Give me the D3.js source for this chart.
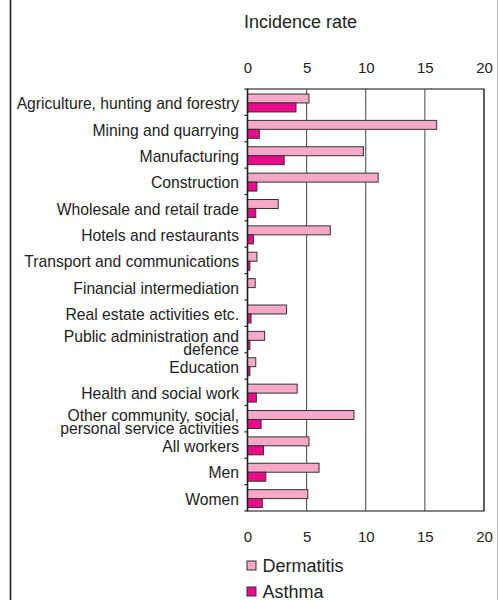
<!DOCTYPE html>
<html><head><meta charset="utf-8">
<script src="https://cdn.jsdelivr.net/npm/d3@7"></script>
<style>body{margin:0;background:#fff}svg{display:block;font-family:"Liberation Sans",Arial,sans-serif}</style>
</head><body><svg id="c" width="498" height="600"></svg>
<script>
const categories = [
  ["Agriculture, hunting and forestry"],
  ["Mining and quarrying"],
  ["Manufacturing"],
  ["Construction"],
  ["Wholesale and retail trade"],
  ["Hotels and restaurants"],
  ["Transport and communications"],
  ["Financial intermediation"],
  ["Real estate activities etc."],
  ["Public administration and", "defence"],
  ["Education"],
  ["Health and social work"],
  ["Other community, social,", "personal service activities"],
  ["All workers"],
  ["Men"],
  ["Women"]
];
const dermatitis = [5.2, 16.0, 9.8, 11.05, 2.6, 7.0, 0.8, 0.65, 3.3, 1.45, 0.7, 4.2, 9.0, 5.2, 6.05, 5.1];
const asthma = [4.1, 1.0, 3.1, 0.8, 0.7, 0.5, 0.2, 0.0, 0.3, 0.2, 0.2, 0.75, 1.15, 1.35, 1.55, 1.25];
const seriesNames = ["Dermatitis", "Asthma"];
const tickValues = [0, 5, 10, 15, 20];
const tickLabels = ["0", "5", "10", "15", "20"];
const axisTitle = "Incidence rate";

const colors = {Dermatitis: "#F5A8C8", Asthma: "#EC0a8a"};
const stroke = "#333";
const svg = d3.select("#c");

// outer frame lines
svg.append("line").attr("x1",10.5).attr("x2",10.5).attr("y1",0).attr("y2",600).attr("stroke","#222").attr("stroke-width",1.6);
svg.append("line").attr("x1",497.5).attr("x2",497.5).attr("y1",0).attr("y2",600).attr("stroke","#bbb").attr("stroke-width",1);

const x = d3.scaleLinear().domain([0,20]).range([247.5, 484]);
const keys = categories.map((c,i)=>i);
const y = d3.scaleBand().domain(keys).range([89, 511]);
const bw = y.bandwidth();
const yi = d3.scaleBand().domain(seriesNames).range([bw*0.19, bw*0.87]);

// title
svg.append("text").attr("x",244).attr("y",28).attr("font-size",18).attr("fill","#222").text(axisTitle);

// gridlines
const g = svg.append("g");
g.selectAll("line.grid").data(tickValues.slice(1)).join("line")
  .attr("x1",d=>x(d)).attr("x2",d=>x(d)).attr("y1",89).attr("y2",511)
  .attr("stroke","#444").attr("stroke-width",1);
// frame
g.append("rect").attr("x",x(0)).attr("y",89).attr("width",x(20)-x(0)).attr("height",511-89)
  .attr("fill","none").attr("stroke","#333").attr("stroke-width",1.2);

// top and bottom tick labels via axes
const axTop = d3.axisTop(x).tickValues(tickValues).tickFormat((d,i)=>tickLabels[i]).tickSize(0).tickPadding(0);
const gt = svg.append("g").attr("transform","translate(0,73)").call(axTop);
const axBot = d3.axisBottom(x).tickValues(tickValues).tickFormat((d,i)=>tickLabels[i]).tickSize(0).tickPadding(0);
const gb = svg.append("g").attr("transform","translate(0,531)").call(axBot);
[gt,gb].forEach(a=>{a.select(".domain").remove();a.selectAll("text").attr("font-size",15).attr("fill","#222").attr("font-family","Liberation Sans, Arial, sans-serif");});

// bars
const rows = keys.map(i=>({i, vals:[{s:"Dermatitis",v:dermatitis[i]},{s:"Asthma",v:asthma[i]}]}));
const rg = svg.append("g").selectAll("g").data(rows).join("g").attr("transform",d=>`translate(0,${y(d.i)})`);
rg.selectAll("rect").data(d=>d.vals.filter(v=>v.v>0)).join("rect")
  .attr("x",x(0)).attr("y",d=>yi(d.s)).attr("width",d=>x(d.v)-x(0)).attr("height",yi.bandwidth())
  .attr("fill",d=>colors[d.s]).attr("stroke",stroke).attr("stroke-width",1);

// y axis line and ticks
svg.append("line").attr("x1",x(0)).attr("x2",x(0)).attr("y1",89).attr("y2",511).attr("stroke","#222").attr("stroke-width",1.5);
svg.append("g").selectAll("line").data(d3.range(categories.length+1)).join("line")
  .attr("x1",x(0)-3).attr("x2",x(0)).attr("y1",d=>89+d*bw).attr("y2",d=>89+d*bw).attr("stroke","#222").attr("stroke-width",1.2);

// category labels
const lab = svg.append("g").selectAll("text").data(keys).join("text")
  .attr("text-anchor","end").attr("font-size",15.7).attr("fill","#222")
  .attr("x",239);
lab.each(function(i){
  const lines = categories[i];
  const t = d3.select(this);
  const cy = y(i)+bw/2;
  if(lines.length===1){
    t.attr("y",cy+7).text(lines[0]);
  } else {
    lines.forEach((l,k)=>{
      t.append("tspan").attr("x",239).attr("y",cy + 3 + (k-0.5)*13 + 6).text(l);
    });
  }
});

// legend
const lg = svg.append("g").selectAll("g").data(seriesNames).join("g")
  .attr("transform",(d,k)=>`translate(247,${561 + k*26})`);
lg.append("rect").attr("width",9).attr("height",9).attr("fill",d=>colors[d]).attr("stroke",stroke).attr("stroke-width",1);
lg.append("text").attr("x",15.5).attr("y",10.5).attr("font-size",18).attr("fill","#222").text(d=>d);
</script></body></html>
